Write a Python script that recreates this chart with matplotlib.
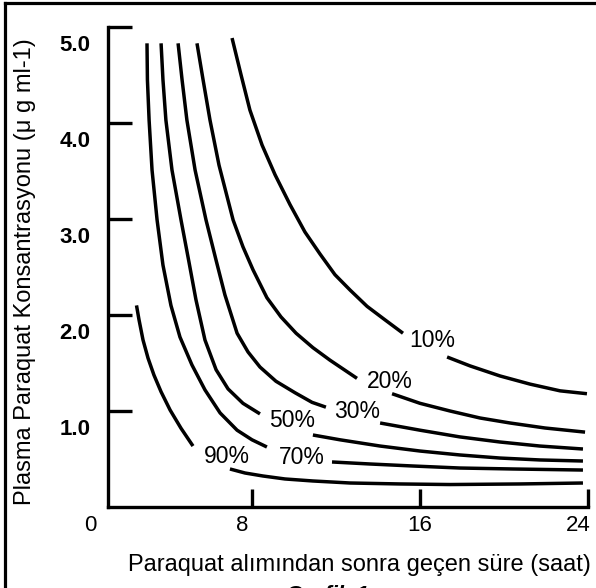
#*******************************************************************************
#plot.py
#*******************************************************************************

#Purpose:
#Nomogram of plasma paraquat concentration versus time since ingestion, with
#survival probability curves (10% to 90%). Saves the figure as out.png.


#*******************************************************************************
#Import Python modules
#*******************************************************************************
import numpy
import matplotlib
matplotlib.use('Agg')
import matplotlib.pyplot as plt
from matplotlib.lines import Line2D


#*******************************************************************************
#Data (time in hours, concentration in ug/ml)
#*******************************************************************************
#Each curve is broken by its label, so it is stored as two pieces
YV_lbl=['90%','70%','50%','30%','20%','10%']

ZV_90_x1=[2.50,2.62,2.81,3.05,3.33,3.67,4.10,4.62,5.19]
ZV_90_y1=[2.10,1.95,1.74,1.55,1.375,1.20,1.01,0.82,0.635]
ZV_90_x2=[6.95,7.67,8.52,9.57,10.90,12.67,15.05,17.43,20.76,23.76]
ZV_90_y2=[0.396,0.354,0.323,0.292,0.271,0.25,0.24,0.234,0.24,0.25]

ZV_70_x1=[3.00,3.02,3.10,3.24,3.48,3.76,4.14,4.57,5.14,5.76,6.48,7.29,8.00,  \
          8.71]
ZV_70_y1=[4.83,4.45,4.03,3.51,2.99,2.52,2.10,1.77,1.48,1.22,0.98,0.80,0.70,  \
          0.625]
ZV_70_x2=[11.81,13.62,15.67,17.90,20.43,23.76]
ZV_70_y2=[0.469,0.448,0.427,0.406,0.396,0.385]

ZV_50_x1=[3.67,3.76,3.90,4.19,4.62,5.00,5.33,5.76,6.29,6.86,7.57,8.38]
ZV_50_y1=[4.83,4.45,4.03,3.51,2.99,2.55,2.16,1.74,1.43,1.23,1.08,0.97]
ZV_50_x2=[10.90,12.19,14.10,16.00,17.90,19.81,21.71,23.76]
ZV_50_y2=[0.75,0.70,0.635,0.583,0.542,0.51,0.49,0.479]

ZV_30_x1=[4.48,4.67,4.90,5.29,5.81,6.29,6.71,7.29,7.81,8.38,9.14,10.05,10.86,\
          11.52]
ZV_30_y1=[4.83,4.45,4.03,3.51,2.99,2.57,2.21,1.81,1.615,1.458,1.31,1.19,1.09,\
          1.04]
ZV_30_x2=[14.10,16.00,17.90,19.81,21.71,23.76]
ZV_30_y2=[0.875,0.80,0.73,0.677,0.635,0.604]

ZV_20_x1=[5.38,5.67,6.00,6.43,7.10,7.57,8.05,8.71,9.38,10.10,10.90,11.71,13.0]
ZV_20_y1=[4.83,4.45,4.03,3.56,2.99,2.71,2.47,2.18,1.98,1.81,1.66,1.53,1.34]
ZV_20_x2=[14.67,16.00,17.43,18.86,20.29,21.95,23.86]
ZV_20_y2=[1.18,1.08,1.00,0.927,0.875,0.823,0.78]

ZV_10_x1=[7.05,7.48,7.90,8.48,9.10,9.81,10.52,11.24,11.95,12.67,13.48,14.33,\
          15.19]
ZV_10_y1=[4.885,4.50,4.135,3.77,3.46,3.15,2.865,2.635,2.42,2.26,2.09,1.95,   \
          1.81]
ZV_10_x2=[17.29,18.38,19.81,21.24,22.67,23.95]
ZV_10_y2=[1.5625,1.47,1.365,1.28,1.21,1.18]

#Label centres for each curve
ZV_lbl_x=[6.8,10.38,9.9,13.0,14.57,16.6]
ZV_lbl_y=[0.53,0.52,0.90,1.00,1.31,1.73]

#Axis ticks
ZV_xtk=[8,16,24]
ZV_ytk=[1,2,3,4,5]
YV_xtk_lbl=['0','8','16','24']
ZV_xtk_pos=[0,8,16,24]


#*******************************************************************************
#Figure and axes
#*******************************************************************************
plt.rcParams['font.family']=['Liberation Sans','DejaVu Sans']

fig=plt.figure(figsize=(5.96,5.88),dpi=100)
ax=fig.add_axes([84/596,81/588,504/596,480/588])
ax.set_xlim(0,24)
ax.set_ylim(0,5)

ZS_x0=1.14
#Position of the vertical axis (the plot starts just right of 0)

ax.spines['top'].set_visible(False)
ax.spines['right'].set_visible(False)
ax.spines['left'].set_position(('data',ZS_x0))
ax.spines['left'].set_bounds(0,5)
ax.spines['bottom'].set_bounds(ZS_x0,24)
ax.spines['left'].set_linewidth(2.4)
ax.spines['bottom'].set_linewidth(2.4)

ax.set_xticks(ZV_xtk)
ax.set_yticks(ZV_ytk)
ax.tick_params(axis='y',direction='in',length=17,width=2.4,labelleft=False)
ax.tick_params(axis='x',direction='in',length=13,width=2.4,labelbottom=False)


#*******************************************************************************
#Curves
#*******************************************************************************
ZM_seg=[(ZV_90_x1,ZV_90_y1,ZV_90_x2,ZV_90_y2),
        (ZV_70_x1,ZV_70_y1,ZV_70_x2,ZV_70_y2),
        (ZV_50_x1,ZV_50_y1,ZV_50_x2,ZV_50_y2),
        (ZV_30_x1,ZV_30_y1,ZV_30_x2,ZV_30_y2),
        (ZV_20_x1,ZV_20_y1,ZV_20_x2,ZV_20_y2),
        (ZV_10_x1,ZV_10_y1,ZV_10_x2,ZV_10_y2)]

for JS_crv in range(len(ZM_seg)):
     x1,y1,x2,y2=ZM_seg[JS_crv]
     ax.plot(x1,y1,color='k',linewidth=2.5,solid_capstyle='butt',            \
             solid_joinstyle='round')
     ax.plot(x2,y2,color='k',linewidth=2.5,solid_capstyle='butt',            \
             solid_joinstyle='round')
     ax.text(ZV_lbl_x[JS_crv],ZV_lbl_y[JS_crv],YV_lbl[JS_crv],ha='center',   \
             va='center',fontsize=16.5)


#*******************************************************************************
#Tick labels (drawn as text, they sit a little below/left of their ticks)
#*******************************************************************************
for ZS_ytk in ZV_ytk:
     ax.text(-0.43,ZS_ytk-0.19,'%.1f' % ZS_ytk,ha='center',va='center',       \
             fontsize=16,fontweight='bold',clip_on=False)

ZV_xtk_off=[0.29,-0.48,0.0,-0.45]
for JS_xtk in range(len(ZV_xtk_pos)):
     ax.text(ZV_xtk_pos[JS_xtk]+ZV_xtk_off[JS_xtk],-0.19,YV_xtk_lbl[JS_xtk],   \
             ha='center',va='center',fontsize=16,clip_on=False)


#*******************************************************************************
#Axis titles, frame and caption
#*******************************************************************************
fig.text(25/596,1-272/588,'Plasma Paraquat Konsantrasyonu (\u03bc g ml-1)',   \
         rotation=90,ha='center',va='center',fontsize=17)
fig.text(359/596,1-565/588,'Paraquat al\u0131m\u0131ndan sonra ge\u00e7en '    \
         +'s\u00fcre (saat)',ha='center',va='center',fontsize=17)
fig.text(327/596,1-585/588,'Grafik 1',ha='center',va='top',fontsize=16,      \
         fontweight='bold',fontstyle='italic')

fig.add_artist(Line2D([5/596,5/596],[0,1-3/588],transform=fig.transFigure,    \
                      color='k',linewidth=2.3))
fig.add_artist(Line2D([5/596,1],[1-3/588,1-3/588],transform=fig.transFigure,  \
                      color='k',linewidth=2.3))

fig.savefig('out.png',dpi=100)


#*******************************************************************************
#End
#*******************************************************************************
